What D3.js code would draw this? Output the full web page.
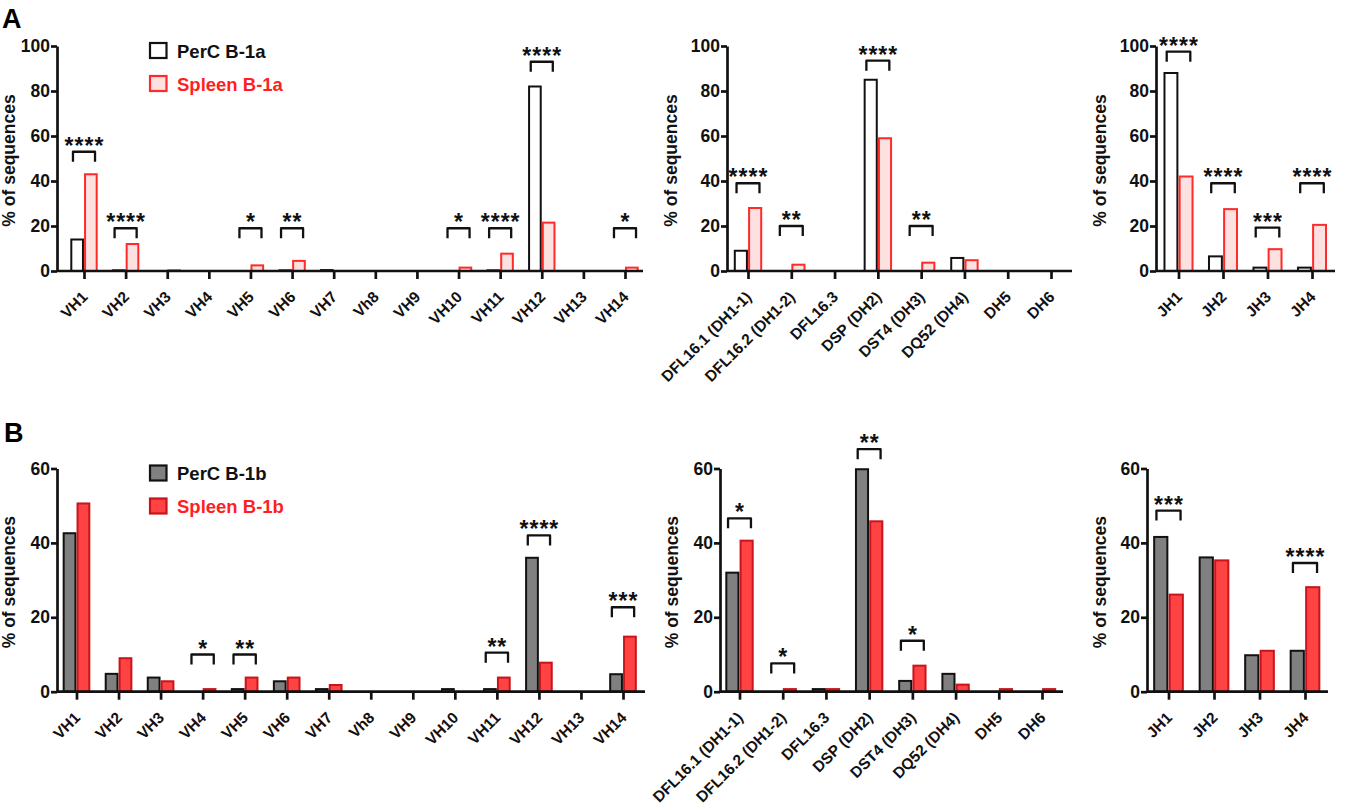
<!DOCTYPE html>
<html>
<head>
<meta charset="utf-8">
<script src="https://cdn.jsdelivr.net/npm/d3@7"></script>
<style>
  html, body { margin: 0; padding: 0; background: #fff; }
  svg { display: block; }
  text { font-family: "Liberation Sans", Arial, sans-serif; font-weight: bold; }
</style>
</head>
<body>
<svg id="chart" width="1350" height="811"></svg>
<script>
// ---------------- DATA ----------------
const vhCategories = ["VH1","VH2","VH3","VH4","VH5","VH6","VH7","Vh8","VH9","VH10","VH11","VH12","VH13","VH14"];
const dhCategories = ["DFL16.1 (DH1-1)","DFL16.2 (DH1-2)","DFL16.3","DSP (DH2)","DST4 (DH3)","DQ52 (DH4)","DH5","DH6"];
const jhCategories = ["JH1","JH2","JH3","JH4"];

const yTicksA = [0, 20, 40, 60, 80, 100];
const yTicksB = [0, 20, 40, 60];

const seriesNamesA = ["PerC B-1a", "Spleen B-1a"];
const seriesNamesB = ["PerC B-1b", "Spleen B-1b"];
const yAxisTitle = "% of sequences";

// Panel A (B-1a)
const perCB1aVH   = [14, 0.3, 0, 0, 0, 0.3, 0.4, 0, 0, 0, 0.3, 82, 0, 0];
const spleenB1aVH = [43, 12, 0.3, 0, 2.5, 4.5, 0, 0, 0, 1.5, 7.7, 21.5, 0, 1.5];
const sigB1aVH      = ["****","****","","","*","**","","","","*","****","****","","*"];
const sigLevelB1aVH = [53, 19, 0, 0, 19, 19, 0, 0, 0, 19, 19, 93, 0, 19];

const perCB1aDH   = [9, 0, 0, 85, 0, 5.8, 0, 0];
const spleenB1aDH = [28, 2.8, 0, 59, 3.7, 4.8, 0, 0];
const sigB1aDH      = ["****","**","","****","**","","",""];
const sigLevelB1aDH = [39, 20, 0, 93.5, 20, 0, 0, 0];

const perCB1aJH   = [88, 6.5, 1.5, 1.5];
const spleenB1aJH = [42, 27.5, 9.7, 20.5];
const sigB1aJH      = ["****","****","***","****"];
const sigLevelB1aJH = [97.5, 39, 19.3, 39];

// Panel B (B-1b)
const perCB1bVH   = [42.6, 4.8, 3.8, 0, 0.7, 2.8, 0.7, 0, 0, 0.7, 0.7, 36, 0, 4.7];
const spleenB1bVH = [50.6, 9, 2.8, 0.7, 3.8, 3.8, 1.8, 0, 0, 0, 3.8, 7.8, 0, 14.8];
const sigB1bVH      = ["","","","*","**","","","","","","**","****","","***"];
const sigLevelB1bVH = [0, 0, 0, 10, 10, 0, 0, 0, 0, 0, 10.5, 42, 0, 22.7];

const perCB1bDH   = [32, 0, 0.7, 59.8, 2.9, 4.8, 0, 0];
const spleenB1bDH = [40.6, 0.7, 0.7, 45.8, 7, 1.9, 0.7, 0.7];
const sigB1bDH      = ["*","*","","**","*","","",""];
const sigLevelB1bDH = [46.6, 7.6, 0, 65.2, 13.7, 0, 0, 0];

const perCB1bJH   = [41.6, 36.1, 9.8, 11];
const spleenB1bJH = [26.1, 35.3, 11, 28.1];
const sigB1bJH      = ["***","","","****"];
const sigLevelB1bJH = [48.7, 0, 0, 34.6];

// ---------------- STYLES ----------------
const styleA = {
  s1: { fill: "#ffffff", stroke: "#111111" },
  s2: { fill: "#fde0e0", stroke: "#ff2a2a" }
};
const styleB = {
  s1: { fill: "#808080", stroke: "#111111" },
  s2: { fill: "#ff4343", stroke: "#c8141a" }
};
const legendRed = "#ff1f1f";
const FONT = '"Liberation Sans", Arial, sans-serif';

const svg = d3.select("#chart");

function drawPanel(cfg) {
  const g = svg.append("g");
  const x = d3.scalePoint().domain(cfg.cats).range([cfg.firstX, cfg.lastX]);
  const y = d3.scaleLinear().domain([0, cfg.yMax]).range([cfg.y0, cfg.yTop]);
  const step = x.step();
  const bw = cfg.bwFrac * step;
  const gap = 0.05 * step;

  const rows = cfg.cats.map((c, i) => ({ c, v1: cfg.s1[i], v2: cfg.s2[i], sig: cfg.sig[i], lvl: cfg.lvl[i] }));

  // bars
  g.selectAll("rect.s1").data(rows.filter(d => d.v1 > 0)).join("rect")
    .attr("class", "s1")
    .attr("x", d => x(d.c) - gap / 2 - bw)
    .attr("y", d => y(d.v1))
    .attr("width", bw)
    .attr("height", d => y(0) - y(d.v1))
    .attr("fill", cfg.style.s1.fill)
    .attr("stroke", cfg.style.s1.stroke)
    .attr("stroke-width", 2);
  g.selectAll("rect.s2").data(rows.filter(d => d.v2 > 0)).join("rect")
    .attr("class", "s2")
    .attr("x", d => x(d.c) + gap / 2)
    .attr("y", d => y(d.v2))
    .attr("width", bw)
    .attr("height", d => y(0) - y(d.v2))
    .attr("fill", cfg.style.s2.fill)
    .attr("stroke", cfg.style.s2.stroke)
    .attr("stroke-width", 2);

  // y axis
  const ya = g.append("g")
    .attr("transform", `translate(${cfg.axisX},0)`)
    .call(d3.axisLeft(y).tickValues(cfg.yTicks).tickSize(6).tickSizeOuter(0).tickPadding(1));
  ya.select(".domain").attr("stroke", "#111").attr("stroke-width", 2.7);
  ya.selectAll(".tick line").attr("stroke", "#111").attr("stroke-width", 2.7);
  ya.selectAll(".tick text").attr("fill", "#111")
    .style("font-size", "17.5px").style("font-family", FONT).style("font-weight", "bold");

  // x axis
  const xa = g.append("g")
    .attr("transform", `translate(0,${cfg.y0})`)
    .call(d3.axisBottom(x).tickSize(8).tickSizeOuter(0));
  xa.select(".domain").remove();
  xa.append("line")
    .attr("x1", cfg.axisX).attr("x2", cfg.endX)
    .attr("y1", 0).attr("y2", 0)
    .attr("stroke", "#111").attr("stroke-width", 2.7);
  xa.selectAll(".tick line").attr("stroke", "#111").attr("stroke-width", 2.7);
  xa.selectAll(".tick text")
    .attr("fill", "#111")
    .attr("x", 0).attr("y", 0).attr("dy", 0)
    .attr("text-anchor", "end")
    .attr("transform", "translate(4,27) rotate(-45)")
    .style("font-size", "15.5px").style("font-family", FONT).style("font-weight", "bold");

  // y title
  g.append("text")
    .attr("transform", `translate(${cfg.titleX},${(cfg.y0 + cfg.yTop) / 2 + 2}) rotate(-90)`)
    .attr("text-anchor", "middle")
    .attr("fill", "#111")
    .style("font-size", "17.5px")
    .text(yAxisTitle);

  // significance brackets
  const sigRows = rows.filter(d => d.sig);
  const half = 0.265 * step;
  g.selectAll("path.br").data(sigRows).join("path")
    .attr("class", "br")
    .attr("d", d => {
      const yb = y(d.lvl), x0 = x(d.c) - half, x1 = x(d.c) + half;
      return `M${x0},${yb + 10}L${x0},${yb}L${x1},${yb}L${x1},${yb + 10}`;
    })
    .attr("fill", "none").attr("stroke", "#111").attr("stroke-width", 2.3)
    .attr("stroke-linejoin", "round");
  g.selectAll("text.st").data(sigRows).join("text")
    .attr("class", "st")
    .attr("x", d => x(d.c) + 0.5)
    .attr("y", d => y(d.lvl) + 2)
    .attr("text-anchor", "middle")
    .attr("fill", "#111")
    .style("font-size", "23px")
    .style("letter-spacing", "1px")
    .text(d => d.sig);
}

function drawLegend(names, style, boxY1, boxY2) {
  const g = svg.append("g");
  const items = [
    { n: names[0], s: style.s1, y: boxY1, c: "#111" },
    { n: names[1], s: style.s2, y: boxY2, c: legendRed }
  ];
  g.selectAll("rect").data(items).join("rect")
    .attr("x", 150).attr("y", d => d.y).attr("width", 16.5).attr("height", 15)
    .attr("fill", d => d.s.fill).attr("stroke", d => d.s.stroke).attr("stroke-width", 2.2);
  g.selectAll("text").data(items).join("text")
    .attr("x", 177).attr("y", d => d.y + 14.5)
    .attr("fill", d => d.c)
    .style("font-size", "18.5px")
    .text(d => d.n);
}

// panel letters
svg.append("text").attr("x", 2).attr("y", 28).style("font-size", "27px").attr("fill", "#000").text("A");
svg.append("text").attr("x", 4).attr("y", 442).style("font-size", "27px").attr("fill", "#000").text("B");

const A = { yMax: 100, yTicks: yTicksA, y0: 271, yTop: 46, style: styleA };
const B = { yMax: 60, yTicks: yTicksB, y0: 691.7, yTop: 468.5, style: styleB };

drawPanel({ ...A, cats: vhCategories, s1: perCB1aVH, s2: spleenB1aVH, sig: sigB1aVH, lvl: sigLevelB1aVH,
  axisX: 57, firstX: 84, lastX: 625, endX: 643, titleX: 15, bwFrac: 0.28 });
drawPanel({ ...A, cats: dhCategories, s1: perCB1aDH, s2: spleenB1aDH, sig: sigB1aDH, lvl: sigLevelB1aDH,
  axisX: 727, firstX: 748, lastX: 1051, endX: 1072, titleX: 677, bwFrac: 0.28 });
drawPanel({ ...A, cats: jhCategories, s1: perCB1aJH, s2: spleenB1aJH, sig: sigB1aJH, lvl: sigLevelB1aJH,
  axisX: 1156, firstX: 1178.5, lastX: 1312, endX: 1335, titleX: 1106, bwFrac: 0.29 });

drawPanel({ ...B, cats: vhCategories, s1: perCB1bVH, s2: spleenB1bVH, sig: sigB1bVH, lvl: sigLevelB1bVH,
  axisX: 57, firstX: 76.5, lastX: 623, endX: 645, titleX: 15, bwFrac: 0.28 });
drawPanel({ ...B, cats: dhCategories, s1: perCB1bDH, s2: spleenB1bDH, sig: sigB1bDH, lvl: sigLevelB1bDH,
  axisX: 720, firstX: 739.5, lastX: 1042, endX: 1063, titleX: 678, bwFrac: 0.28 });
drawPanel({ ...B, cats: jhCategories, s1: perCB1bJH, s2: spleenB1bJH, sig: sigB1bJH, lvl: sigLevelB1bJH,
  axisX: 1147, firstX: 1168.5, lastX: 1305, endX: 1328, titleX: 1106, bwFrac: 0.29 });

drawLegend(seriesNamesA, styleA, 43, 76);
drawLegend(seriesNamesB, styleB, 465.5, 498.5);
</script>
</body>
</html>
